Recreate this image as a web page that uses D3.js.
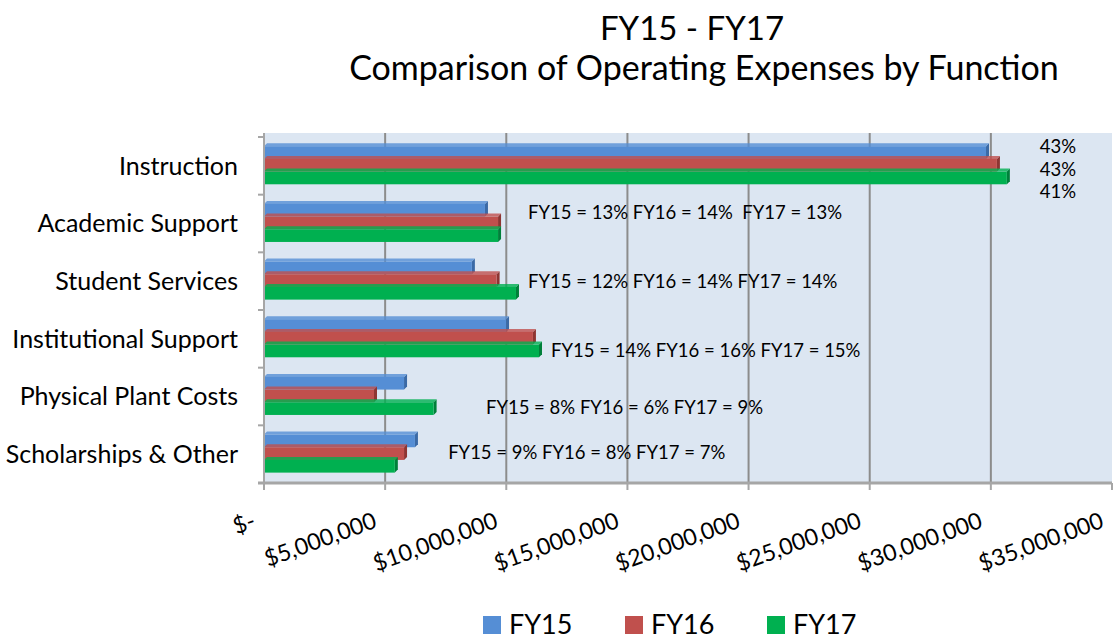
<!DOCTYPE html>
<html>
<head>
<meta charset="utf-8">
<script src="https://cdn.jsdelivr.net/npm/d3@7"></script>
<style>
  body { margin: 0; background: #fff; }
  text { font-family: Lato, "Noto Sans", sans-serif; fill: #000; }
</style>
</head>
<body>
<div id="chart"></div>
<script>
// data (dollars)
const categories = ["Instruction", "Academic Support", "Student Services",
  "Institutional Support", "Physical Plant Costs", "Scholarships & Other"];
const seriesNames = ["FY15", "FY16", "FY17"];
const fy15 = [29.8e6, 9.12e6, 8.58e6, 9.99e6, 5.78e6, 6.23e6];
const fy16 = [30.25e6, 9.66e6, 9.6e6, 11.1e6, 4.54e6, 5.78e6];
const fy17 = [30.66e6, 9.66e6, 10.4e6, 11.35e6, 7.0e6, 5.4e6];
const xTicks = [0, 5e6, 10e6, 15e6, 20e6, 25e6, 30e6, 35e6];
const xTickLabels = ["$-", "$5,000,000", "$10,000,000", "$15,000,000",
  "$20,000,000", "$25,000,000", "$30,000,000", "$35,000,000"];
// percentage notes next to the bars
const notes = ["", "FY15 = 13% FY16 = 14%  FY17 = 13%", "FY15 = 12% FY16 = 14% FY17 = 14%",
  "FY15 = 14% FY16 = 16% FY17 = 15%", "FY15 = 8% FY16 = 6% FY17 = 9%", "FY15 = 9% FY16 = 8% FY17 = 7%"];
const noteAt = [0, 10.9e6, 10.9e6, 11.85e6, 9.16e6, 7.6e6];   // where each note starts (in $)
const instructionPct = ["43%", "43%", "41%"];

const colors = ["#558ed5", "#c0504d", "#00b050"];
const sideColors = ["#3b6aa6", "#8e3532", "#00803a"];

const W = 1115, H = 640;
const pLeft = 264, pRight = 1112, pTop = 137, pBottom = 483;

const svg = d3.select("#chart").append("svg")
  .attr("width", W).attr("height", H);

const x = d3.scaleLinear().domain([0, 35e6]).range([pLeft, pRight]);
const y = d3.scaleBand().domain(categories).range([pTop, pBottom]);
const bw = y.bandwidth();
const ySub = d3.scaleBand().domain(seriesNames).range([bw * 0.16, bw * 0.82]);

// title
svg.append("text").attr("x", 692).attr("y", 40).attr("text-anchor", "middle")
  .style("font-size", "33px").text("FY15 - FY17");
svg.append("text").attr("x", 704).attr("y", 80).attr("text-anchor", "middle")
  .style("font-size", "34px").text("Comparison of Operating Expenses by Function");

// plot background
svg.append("rect").attr("x", pLeft).attr("y", pTop - 4)
  .attr("width", pRight - pLeft).attr("height", pBottom - pTop + 4)
  .attr("fill", "#dce6f2");

// vertical gridlines
svg.selectAll(".grid").data(xTicks.filter(t => t > 0 && t < 35e6)).join("line")
  .attr("x1", d => x(d)).attr("x2", d => x(d))
  .attr("y1", pTop - 4).attr("y2", pBottom)
  .attr("stroke", "#8c8c8c").attr("stroke-width", 2);

// bars
const data = categories.map((c, i) => ({
  cat: c,
  vals: [fy15[i], fy16[i], fy17[i]]
}));
const dep = 3;
const groups = svg.selectAll(".cat").data(data).join("g")
  .attr("transform", d => `translate(0, ${y(d.cat)})`);

groups.each(function (d) {
  const g = d3.select(this);
  d.vals.forEach((v, k) => {
    const y0 = ySub(seriesNames[k]);
    const h = ySub.bandwidth();
    const x1 = x(v);
    // side face for the 3D look
    g.append("polygon")
      .attr("points", [[x1, y0], [x1 + dep, y0 - dep], [x1 + dep, y0 + h - dep], [x1, y0 + h]].join(" "))
      .attr("fill", sideColors[k]);
    // top face
    g.append("polygon")
      .attr("points", [[pLeft, y0], [pLeft + dep, y0 - dep], [x1 + dep, y0 - dep], [x1, y0]].join(" "))
      .attr("fill", colors[k]).attr("opacity", 0.8);
    g.append("rect")
      .attr("x", pLeft).attr("y", y0)
      .attr("width", x1 - pLeft).attr("height", h)
      .attr("fill", colors[k]);
  });
});

// axes
svg.append("line").attr("x1", pLeft).attr("x2", pLeft).attr("y1", pTop - 4).attr("y2", pBottom)
  .attr("stroke", "#a6a6a6").attr("stroke-width", 2);
svg.selectAll(".ytick").data(categories.concat(["end"])).join("line")
  .attr("x1", pLeft - 6).attr("x2", pLeft)
  .attr("y1", (d, i) => pTop + i * bw).attr("y2", (d, i) => pTop + i * bw)
  .attr("stroke", "#a6a6a6").attr("stroke-width", 2);
svg.append("line").attr("x1", pLeft - 6).attr("x2", pRight).attr("y1", pBottom).attr("y2", pBottom)
  .attr("stroke", "#a6a6a6").attr("stroke-width", 3);
svg.selectAll(".xtick").data(xTicks).join("line")
  .attr("x1", d => x(d)).attr("x2", d => x(d))
  .attr("y1", pBottom).attr("y2", pBottom + 7)
  .attr("stroke", "#a6a6a6").attr("stroke-width", 2);

// category labels
svg.selectAll(".ylab").data(categories).join("text")
  .attr("x", pLeft - 26).attr("y", d => y(d) + bw / 2)
  .attr("dy", "0.35em").attr("text-anchor", "end")
  .style("font-size", "25px").text(d => d);

// x tick labels, rotated
svg.selectAll(".xlab").data(xTicks).join("text")
  .attr("transform", d => `translate(${x(d) - 7}, 527) rotate(-20)`)
  .attr("text-anchor", "end")
  .style("font-size", "23px")
  .text((d, i) => xTickLabels[i]);

// notes
svg.selectAll(".note").data(notes.slice(1)).join("text")
  .attr("x", (d, i) => x(noteAt[i + 1]))
  .attr("y", (d, i) => y(categories[i + 1]) + [18, 29, 41, 40, 27][i])
  .attr("dy", "0.35em")
  .style("white-space", "pre")
  .style("font-size", "18.5px").text(d => d);
svg.selectAll(".pct").data(instructionPct).join("text")
  .attr("x", x(32.77e6)).attr("y", (d, i) => y(categories[0]) + 10 + i * 22.5)
  .attr("dy", "0.35em").attr("text-anchor", "middle")
  .style("font-size", "18.5px").text(d => d);

// legend
const legX = [483, 625, 767];
const leg = svg.selectAll(".leg").data(seriesNames).join("g")
  .attr("transform", (d, i) => `translate(${legX[i]}, 616)`);
leg.append("rect").attr("width", 18).attr("height", 18).attr("fill", (d, i) => colors[i]);
leg.append("text").attr("x", 26).attr("y", 18).style("font-size", "27px").text(d => d);
</script>
</body>
</html>
